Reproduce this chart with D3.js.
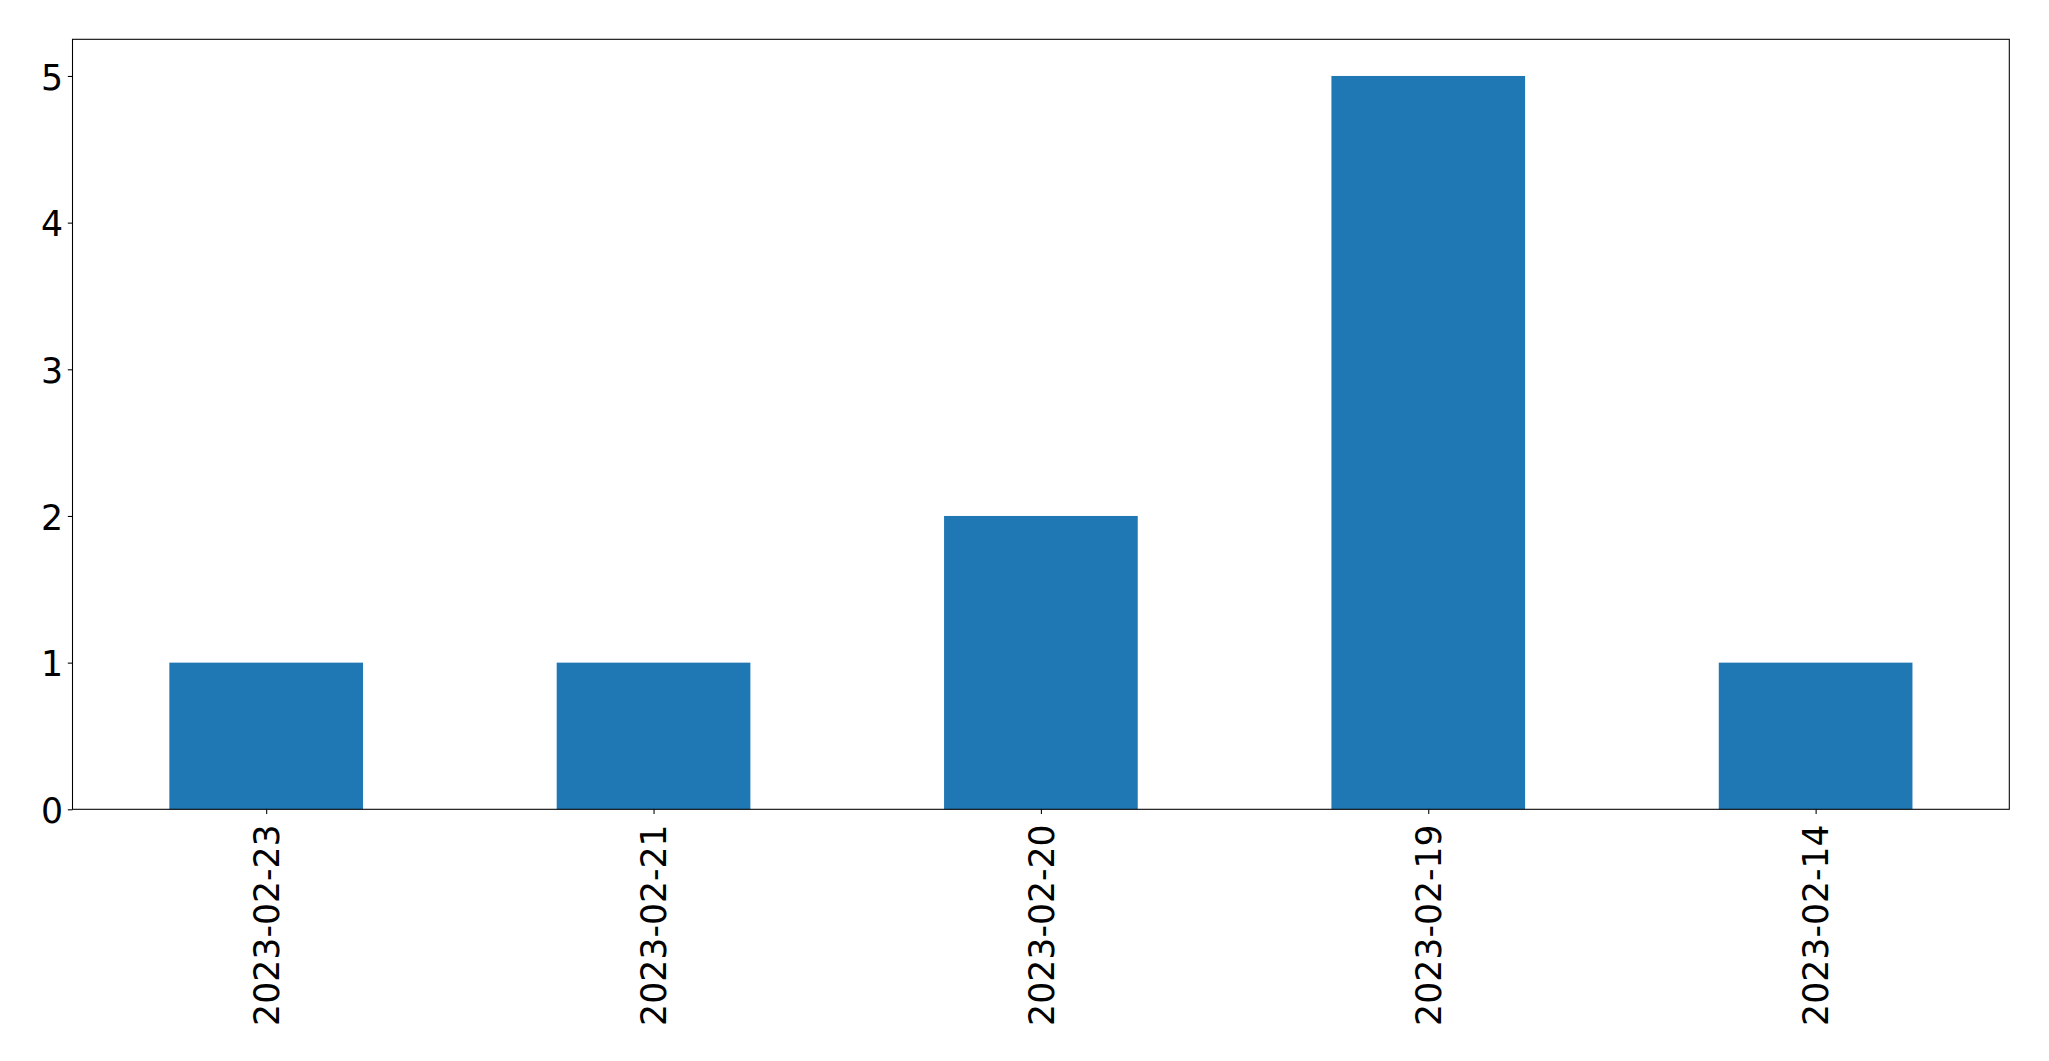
<!DOCTYPE html>
<html>
<head>
<meta charset="utf-8">
<script src="https://cdn.jsdelivr.net/npm/d3@7"></script>
<style>
  html, body { margin: 0; padding: 0; background: #fff; }
  svg { display: block; }
  text { font-family: "DejaVu Sans", sans-serif; fill: #000; }
</style>
</head>
<body>
<script>
const categories = ["2023-02-23", "2023-02-21", "2023-02-20", "2023-02-19", "2023-02-14"];
const values = [1, 1, 2, 5, 1];
const yTicks = [0, 1, 2, 3, 4, 5];

const W = 2049, H = 1061;
const m = { left: 72.5, right: 2049 - 2009.3, top: 39.3, bottom: 1061 - 809.3 };
const fontSize = 34.7;

const svg = d3.select("body").append("svg").attr("width", W).attr("height", H);

const x = d3.scaleLinear().domain([-0.5, categories.length - 0.5]).range([m.left, W - m.right]);
const y = d3.scaleLinear().domain([0, 5.25]).range([H - m.bottom, m.top]);
const barW = 0.5;

svg.append("g").selectAll("rect").data(values).join("rect")
  .attr("x", (d, i) => x(i - barW / 2))
  .attr("width", (d, i) => x(i + barW / 2) - x(i - barW / 2))
  .attr("y", d => y(d))
  .attr("height", d => y(0) - y(d))
  .attr("fill", "#1f77b4");

// frame
svg.append("rect")
  .attr("x", m.left).attr("y", m.top)
  .attr("width", W - m.right - m.left).attr("height", H - m.bottom - m.top)
  .attr("fill", "none").attr("stroke", "#000").attr("stroke-width", 1.07);

// y axis
const yAxis = d3.axisLeft(y).tickValues(yTicks).tickFormat(d3.format("d")).tickSize(4.7).tickPadding(4.7);
const gy = svg.append("g").attr("transform", `translate(${m.left},0)`).call(yAxis);
gy.select(".domain").remove();
gy.selectAll(".tick line").attr("stroke", "#000").attr("stroke-width", 1.07);
gy.selectAll(".tick text")
  .style("font-size", fontSize + "px").style("font-family", "DejaVu Sans").attr("fill", "#000")
  .attr("x", -9.5).attr("dy", "0.38em");

// x axis
const xAxis = d3.axisBottom(x).tickValues(d3.range(categories.length)).tickFormat(i => categories[i]).tickSize(4.7).tickPadding(4.7);
const gx = svg.append("g").attr("transform", `translate(0,${H - m.bottom})`).call(xAxis);
gx.select(".domain").remove();
gx.selectAll(".tick line").attr("stroke", "#000").attr("stroke-width", 1.07);
gx.selectAll(".tick text")
  .style("font-size", fontSize + "px").style("font-family", "DejaVu Sans").attr("fill", "#000")
  .attr("text-anchor", "end")
  .attr("dy", "0.35em")
  .attr("transform", "rotate(-90)")
  .attr("x", -15).attr("y", 0);
</script>
</body>
</html>
